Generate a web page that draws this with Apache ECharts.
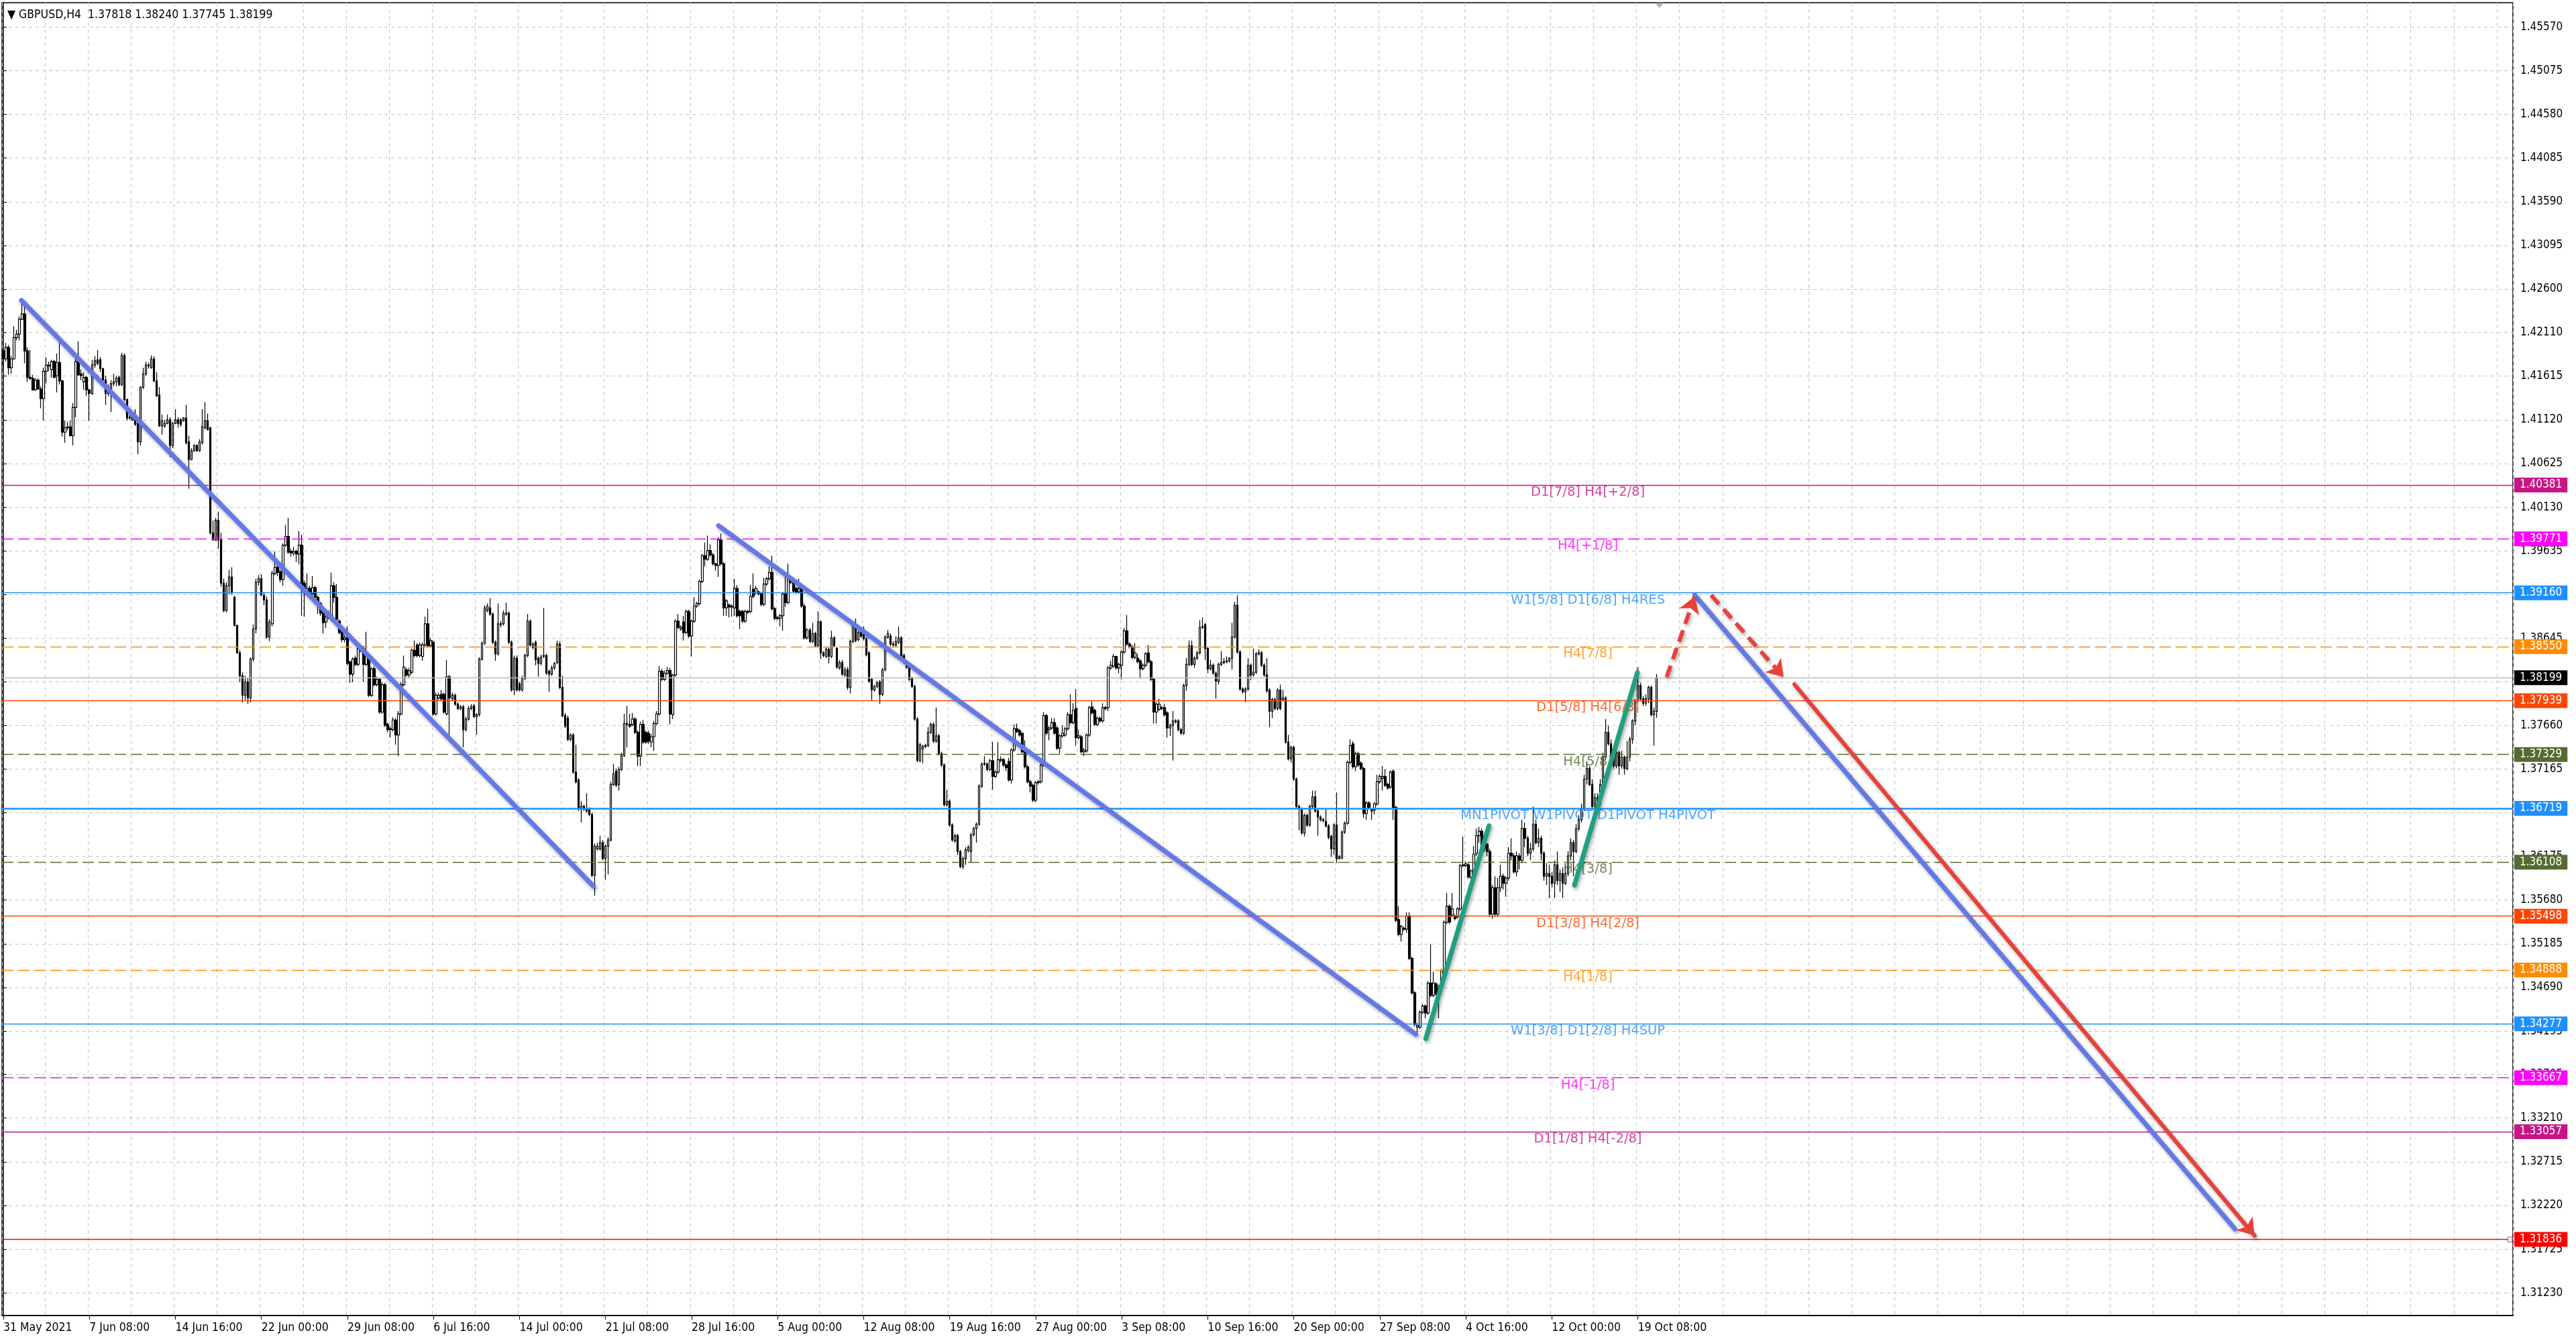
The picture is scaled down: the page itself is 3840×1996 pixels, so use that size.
<!DOCTYPE html>
<html><head><meta charset="utf-8">
<script src="https://cdn.jsdelivr.net/npm/echarts@6/dist/echarts.min.js"></script>
<style>html,body{margin:0;padding:0;background:#fff;overflow:hidden}#c{width:3840px;height:1996px}</style>
</head><body><div id="c"></div>
<script>
// ---- candle values (H4 bars, 31 May 2021 -> 20 Oct 2021) ----
const opens = [
1.4190,1.4181,1.4194,1.4171,1.4181,1.4205,1.4209,1.4226,1.4232,1.4190,
1.4160,1.4159,1.4146,1.4157,1.4147,1.4136,1.4167,1.4173,1.4169,1.4178,
1.4162,1.4177,1.4156,1.4098,1.4103,1.4104,1.4094,1.4126,1.4178,1.4164,
1.4155,1.4160,1.4146,1.4142,1.4174,1.4180,1.4180,1.4170,1.4157,1.4142,
1.4147,1.4153,1.4155,1.4160,1.4152,1.4185,1.4135,1.4115,1.4112,1.4112,
1.4108,1.4087,1.4149,1.4164,1.4173,1.4171,1.4181,1.4156,1.4140,1.4105,
1.4105,1.4108,1.4112,1.4083,1.4108,1.4112,1.4112,1.4111,1.4114,1.4087,
1.4067,1.4077,1.4083,1.4077,1.4086,1.4103,1.4111,1.4103,1.3984,1.3976,
1.3998,1.3976,1.3927,1.3896,1.3924,1.3934,1.3911,1.3879,1.3848,1.3822,
1.3800,1.3815,1.3797,1.3841,1.3875,1.3928,1.3932,1.3913,1.3908,1.3866,
1.3881,1.3938,1.3945,1.3940,1.3931,1.3970,1.3980,1.3963,1.3961,1.3963,
1.3960,1.3970,1.3927,1.3918,1.3921,1.3915,1.3922,1.3911,1.3904,1.3894,
1.3883,1.3889,1.3886,1.3924,1.3911,1.3884,1.3872,1.3863,1.3866,1.3838,
1.3824,1.3842,1.3835,1.3851,1.3853,1.3835,1.3841,1.3800,1.3830,1.3812,
1.3818,1.3781,1.3812,1.3767,1.3761,1.3761,1.3772,1.3755,1.3779,1.3812,
1.3829,1.3823,1.3826,1.3851,1.3857,1.3845,1.3844,1.3857,1.3881,1.3856,
1.3860,1.3779,1.3797,1.3801,1.3801,1.3779,1.3821,1.3796,1.3800,1.3790,
1.3785,1.3787,1.3761,1.3773,1.3785,1.3788,1.3776,1.3778,1.3841,1.3859,
1.3896,1.3899,1.3892,1.3860,1.3847,1.3880,1.3881,1.3892,1.3893,1.3860,
1.3806,1.3842,1.3813,1.3806,1.3819,1.3845,1.3884,1.3854,1.3860,1.3842,
1.3836,1.3844,1.3845,1.3827,1.3824,1.3831,1.3837,1.3858,1.3809,1.3777,
1.3774,1.3750,1.3755,1.3713,1.3704,1.3671,1.3674,1.3671,1.3671,1.3665,
1.3596,1.3626,1.3626,1.3633,1.3615,1.3629,1.3636,1.3699,1.3714,1.3699,
1.3716,1.3732,1.3768,1.3767,1.3767,1.3773,1.3758,1.3731,1.3767,1.3758,
1.3757,1.3747,1.3753,1.3768,1.3779,1.3827,1.3818,1.3825,1.3828,1.3778,
1.3823,1.3884,1.3875,1.3883,1.3871,1.3895,1.3867,1.3884,1.3901,1.3904,
1.3929,1.3958,1.3954,1.3964,1.3959,1.3949,1.3947,1.3976,1.3949,1.3899,
1.3902,1.3901,1.3899,1.3921,1.3895,1.3895,1.3884,1.3894,1.3895,1.3920,
1.3916,1.3917,1.3915,1.3903,1.3926,1.3932,1.3939,1.3898,1.3888,1.3887,
1.3890,1.3915,1.3905,1.3930,1.3928,1.3921,1.3917,1.3921,1.3901,1.3865,
1.3874,1.3861,1.3870,1.3856,1.3883,1.3848,1.3844,1.3852,1.3844,1.3865,
1.3853,1.3831,1.3837,1.3823,1.3829,1.3809,1.3861,1.3877,1.3863,1.3873,
1.3869,1.3864,1.3848,1.3818,1.3806,1.3810,1.3815,1.3801,1.3829,1.3866,
1.3867,1.3857,1.3857,1.3860,1.3865,1.3845,1.3837,1.3832,1.3819,1.3810,
1.3773,1.3726,1.3739,1.3742,1.3743,1.3758,1.3767,1.3748,1.3754,1.3734,
1.3721,1.3676,1.3680,1.3653,1.3635,1.3641,1.3623,1.3606,1.3615,1.3624,
1.3623,1.3642,1.3649,1.3654,1.3697,1.3722,1.3722,1.3716,1.3726,1.3708,
1.3713,1.3726,1.3727,1.3721,1.3725,1.3704,1.3738,1.3762,1.3760,1.3757,
1.3736,1.3719,1.3702,1.3698,1.3681,1.3701,1.3702,1.3721,1.3777,1.3761,
1.3763,1.3769,1.3763,1.3740,1.3754,1.3755,1.3762,1.3778,1.3769,1.3785,
1.3752,1.3753,1.3736,1.3737,1.3755,1.3787,1.3783,1.3767,1.3774,1.3771,
1.3785,1.3786,1.3831,1.3833,1.3844,1.3831,1.3834,1.3849,1.3873,1.3858,
1.3855,1.3843,1.3842,1.3839,1.3830,1.3834,1.3848,1.3838,1.3818,1.3781,
1.3784,1.3785,1.3786,1.3780,1.3763,1.3766,1.3770,1.3771,1.3761,1.3757,
1.3811,1.3835,1.3856,1.3835,1.3842,1.3848,1.3877,1.3880,1.3853,1.3830,
1.3834,1.3825,1.3816,1.3835,1.3837,1.3838,1.3839,1.3842,1.3866,1.3902,
1.3849,1.3807,1.3804,1.3807,1.3834,1.3823,1.3826,1.3847,1.3848,1.3834,
1.3823,1.3806,1.3782,1.3795,1.3785,1.3806,1.3795,1.3797,1.3747,1.3728,
1.3741,1.3705,1.3674,1.3671,1.3644,1.3664,1.3653,1.3674,1.3685,1.3669,
1.3662,1.3658,1.3657,1.3652,1.3640,1.3626,1.3653,1.3615,1.3616,1.3645,
1.3655,1.3724,1.3745,1.3719,1.3734,1.3723,1.3717,1.3666,1.3678,1.3669,
1.3670,1.3677,1.3702,1.3706,1.3708,1.3699,1.3696,1.3714,1.3673,1.3546,
1.3529,1.3536,1.3535,1.3550,1.3502,1.3463,1.3424,1.3424,1.3441,1.3448,
1.3440,1.3474,1.3460,1.3473,1.3462,1.3468,1.3488,1.3543,1.3561,1.3551,
1.3550,1.3549,1.3558,1.3607,1.3607,1.3608,1.3594,1.3601,1.3621,1.3641,
1.3646,1.3626,1.3631,1.3623,1.3552,1.3582,1.3552,1.3582,1.3595,1.3587,
1.3593,1.3621,1.3618,1.3600,1.3618,1.3613,1.3649,1.3638,1.3621,1.3626,
1.3654,1.3633,1.3638,1.3621,1.3595,1.3598,1.3595,1.3587,1.3608,1.3590,
1.3598,1.3587,1.3598,1.3618,1.3633,1.3623,1.3649,1.3659,1.3671,1.3705,
1.3717,1.3699,1.3674,1.3684,1.3677,1.3699,1.3730,1.3758,1.3745,1.3730,
1.3720,1.3735,1.3720,1.3730,1.3717,1.3730,1.3750,1.3771,1.3794,1.3811,
1.3796,1.3791,1.3796,1.3809,1.3778,1.37818];
const highs = [
1.4192,1.4199,1.4197,1.4184,1.4218,1.4214,1.4229,1.4244,1.4242,1.4194,
1.4191,1.4163,1.4159,1.4159,1.4150,1.4171,1.4183,1.4178,1.4180,1.4180,
1.4187,1.4199,1.4157,1.4111,1.4110,1.4111,1.4131,1.4181,1.4201,1.4169,
1.4166,1.4162,1.4147,1.4180,1.4184,1.4191,1.4183,1.4171,1.4162,1.4152,
1.4157,1.4164,1.4162,1.4162,1.4188,1.4187,1.4136,1.4125,1.4121,1.4124,
1.4110,1.4150,1.4171,1.4178,1.4177,1.4185,1.4184,1.4166,1.4149,1.4118,
1.4112,1.4118,1.4115,1.4110,1.4124,1.4115,1.4114,1.4115,1.4129,1.4094,
1.4080,1.4084,1.4084,1.4090,1.4124,1.4132,1.4119,1.4104,1.3998,1.4001,
1.4008,1.3984,1.3932,1.3928,1.3942,1.3945,1.3913,1.3880,1.3851,1.3826,
1.3822,1.3820,1.3843,1.3880,1.3932,1.3936,1.3937,1.3917,1.3912,1.3886,
1.3941,1.3963,1.3948,1.3942,1.3972,1.3993,1.4001,1.3966,1.3968,1.3965,
1.3986,1.3982,1.3930,1.3938,1.3924,1.3935,1.3924,1.3913,1.3906,1.3896,
1.3892,1.3896,1.3939,1.3928,1.3926,1.3886,1.3874,1.3868,1.3878,1.3839,
1.3843,1.3845,1.3860,1.3857,1.3856,1.3872,1.3843,1.3832,1.3833,1.3821,
1.3820,1.3815,1.3814,1.3769,1.3765,1.3775,1.3774,1.3782,1.3815,1.3845,
1.3831,1.3831,1.3853,1.3862,1.3859,1.3860,1.3860,1.3889,1.3898,1.3865,
1.3862,1.3803,1.3803,1.3806,1.3803,1.3840,1.3823,1.3803,1.3802,1.3792,
1.3789,1.3789,1.3776,1.3788,1.3790,1.3790,1.3780,1.3843,1.3861,1.3902,
1.3904,1.3910,1.3894,1.3862,1.3904,1.3884,1.3896,1.3905,1.3895,1.3862,
1.3845,1.3845,1.3815,1.3822,1.3847,1.3892,1.3886,1.3860,1.3862,1.3844,
1.3846,1.3899,1.3847,1.3829,1.3834,1.3838,1.3862,1.3861,1.3822,1.3780,
1.3777,1.3757,1.3757,1.3744,1.3706,1.3680,1.3676,1.3689,1.3673,1.3667,
1.3632,1.3633,1.3641,1.3636,1.3631,1.3639,1.3702,1.3722,1.3717,1.3719,
1.3735,1.3779,1.3788,1.3779,1.3780,1.3775,1.3760,1.3770,1.3772,1.3760,
1.3760,1.3756,1.3771,1.3782,1.3833,1.3830,1.3828,1.3832,1.3831,1.3824,
1.3886,1.3892,1.3879,1.3890,1.3897,1.3897,1.3886,1.3911,1.3906,1.3931,
1.3960,1.3973,1.3981,1.3971,1.3961,1.3950,1.3979,1.3983,1.3951,1.3909,
1.3904,1.3903,1.3932,1.3925,1.3897,1.3897,1.3897,1.3897,1.3925,1.3938,
1.3924,1.3919,1.3917,1.3933,1.3934,1.3946,1.3958,1.3900,1.3890,1.3892,
1.3917,1.3934,1.3949,1.3933,1.3929,1.3923,1.3932,1.3923,1.3904,1.3876,
1.3876,1.3882,1.3872,1.3895,1.3885,1.3850,1.3854,1.3854,1.3873,1.3867,
1.3855,1.3840,1.3840,1.3832,1.3832,1.3863,1.3881,1.3887,1.3873,1.3875,
1.3878,1.3866,1.3850,1.3820,1.3812,1.3816,1.3817,1.3831,1.3868,1.3874,
1.3870,1.3861,1.3867,1.3878,1.3867,1.3847,1.3839,1.3834,1.3821,1.3812,
1.3775,1.3746,1.3744,1.3745,1.3764,1.3769,1.3769,1.3786,1.3756,1.3736,
1.3723,1.3693,1.3682,1.3655,1.3643,1.3643,1.3625,1.3617,1.3628,1.3630,
1.3644,1.3651,1.3656,1.3699,1.3724,1.3731,1.3724,1.3728,1.3747,1.3715,
1.3747,1.3731,1.3729,1.3723,1.3729,1.3740,1.3767,1.3768,1.3762,1.3758,
1.3749,1.3721,1.3704,1.3700,1.3703,1.3704,1.3723,1.3781,1.3779,1.3765,
1.3774,1.3774,1.3765,1.3756,1.3766,1.3764,1.3781,1.3801,1.3791,1.3807,
1.3761,1.3755,1.3740,1.3757,1.3788,1.3793,1.3785,1.3776,1.3776,1.3791,
1.3788,1.3833,1.3839,1.3847,1.3845,1.3837,1.3851,1.3876,1.3891,1.3860,
1.3857,1.3859,1.3847,1.3841,1.3836,1.3849,1.3857,1.3840,1.3820,1.3792,
1.3796,1.3788,1.3790,1.3782,1.3768,1.3782,1.3773,1.3773,1.3763,1.3813,
1.3842,1.3862,1.3862,1.3844,1.3850,1.3885,1.3888,1.3882,1.3855,1.3840,
1.3836,1.3827,1.3837,1.3850,1.3842,1.3844,1.3843,1.3882,1.3906,1.3913,
1.3851,1.3809,1.3809,1.3842,1.3836,1.3853,1.3849,1.3852,1.3850,1.3836,
1.3842,1.3808,1.3797,1.3797,1.3808,1.3812,1.3806,1.3799,1.3755,1.3743,
1.3743,1.3707,1.3676,1.3673,1.3666,1.3666,1.3676,1.3692,1.3692,1.3671,
1.3664,1.3661,1.3672,1.3654,1.3642,1.3655,1.3690,1.3619,1.3647,1.3657,
1.3726,1.3750,1.3748,1.3736,1.3736,1.3725,1.3719,1.3680,1.3680,1.3672,
1.3679,1.3710,1.3710,1.3720,1.3716,1.3701,1.3715,1.3716,1.3675,1.3561,
1.3540,1.3538,1.3554,1.3554,1.3504,1.3465,1.3429,1.3443,1.3450,1.3450,
1.3476,1.3518,1.3487,1.3475,1.3472,1.3490,1.3545,1.3576,1.3563,1.3576,
1.3552,1.3560,1.3609,1.3640,1.3612,1.3610,1.3603,1.3629,1.3649,1.3651,
1.3649,1.3636,1.3633,1.3626,1.3585,1.3595,1.3593,1.3608,1.3598,1.3595,
1.3628,1.3638,1.3621,1.3623,1.3621,1.3659,1.3656,1.3641,1.3633,1.3674,
1.3659,1.3649,1.3641,1.3623,1.3610,1.3608,1.3600,1.3613,1.3623,1.3603,
1.3605,1.3608,1.3623,1.3638,1.3636,1.3654,1.3664,1.3677,1.3710,1.3725,
1.3720,1.3705,1.3689,1.3689,1.3705,1.3735,1.3773,1.3766,1.3750,1.3740,
1.3745,1.3737,1.3737,1.3732,1.3748,1.3753,1.3773,1.3796,1.3832,1.3814,
1.3799,1.3801,1.3811,1.3811,1.3786,1.38240];
const lows = [
1.4171,1.4178,1.4163,1.4164,1.4180,1.4202,1.4202,1.4225,1.4176,1.4155,
1.4157,1.4145,1.4145,1.4146,1.4125,1.4111,1.4153,1.4167,1.4160,1.4159,
1.4143,1.4152,1.4093,1.4086,1.4100,1.4093,1.4083,1.4115,1.4162,1.4157,
1.4146,1.4139,1.4111,1.4140,1.4171,1.4174,1.4166,1.4156,1.4129,1.4139,
1.4121,1.4150,1.4150,1.4150,1.4150,1.4133,1.4111,1.4112,1.4111,1.4105,
1.4073,1.4083,1.4147,1.4162,1.4170,1.4170,1.4155,1.4138,1.4104,1.4095,
1.4103,1.4107,1.4070,1.4080,1.4107,1.4103,1.4104,1.4110,1.4084,1.4034,
1.4066,1.4076,1.4076,1.4076,1.4084,1.4101,1.4100,1.3982,1.3975,1.3975,
1.3966,1.3923,1.3894,1.3894,1.3914,1.3914,1.3878,1.3847,1.3815,1.3792,
1.3795,1.3790,1.3792,1.3838,1.3870,1.3924,1.3912,1.3902,1.3864,1.3861,
1.3878,1.3936,1.3935,1.3928,1.3924,1.3968,1.3960,1.3957,1.3958,1.3951,
1.3948,1.3890,1.3889,1.3915,1.3910,1.3912,1.3908,1.3892,1.3890,1.3870,
1.3876,1.3886,1.3884,1.3905,1.3884,1.3869,1.3860,1.3860,1.3834,1.3814,
1.3815,1.3833,1.3833,1.3849,1.3815,1.3833,1.3798,1.3798,1.3810,1.3810,
1.3779,1.3779,1.3764,1.3758,1.3752,1.3759,1.3744,1.3731,1.3777,1.3810,
1.3821,1.3820,1.3824,1.3843,1.3843,1.3843,1.3839,1.3855,1.3854,1.3854,
1.3777,1.3777,1.3795,1.3794,1.3779,1.3777,1.3755,1.3794,1.3788,1.3783,
1.3783,1.3741,1.3759,1.3771,1.3783,1.3774,1.3755,1.3776,1.3839,1.3857,
1.3894,1.3890,1.3858,1.3839,1.3845,1.3877,1.3879,1.3890,1.3858,1.3804,
1.3800,1.3804,1.3804,1.3804,1.3817,1.3843,1.3855,1.3852,1.3834,1.3821,
1.3834,1.3842,1.3823,1.3804,1.3822,1.3829,1.3835,1.3807,1.3775,1.3763,
1.3748,1.3748,1.3711,1.3700,1.3669,1.3656,1.3669,1.3667,1.3663,1.3594,
1.3573,1.3624,1.3624,1.3613,1.3591,1.3597,1.3634,1.3697,1.3696,1.3692,
1.3714,1.3730,1.3741,1.3763,1.3765,1.3756,1.3720,1.3720,1.3745,1.3745,
1.3745,1.3741,1.3737,1.3766,1.3777,1.3816,1.3816,1.3823,1.3767,1.3773,
1.3821,1.3875,1.3873,1.3862,1.3869,1.3865,1.3844,1.3882,1.3899,1.3902,
1.3927,1.3946,1.3952,1.3957,1.3947,1.3941,1.3934,1.3947,1.3890,1.3890,
1.3888,1.3889,1.3890,1.3888,1.3875,1.3882,1.3882,1.3892,1.3893,1.3910,
1.3914,1.3913,1.3901,1.3901,1.3924,1.3930,1.3896,1.3885,1.3885,1.3878,
1.3873,1.3900,1.3903,1.3926,1.3916,1.3915,1.3915,1.3899,1.3863,1.3863,
1.3859,1.3859,1.3854,1.3854,1.3841,1.3843,1.3842,1.3836,1.3842,1.3854,
1.3830,1.3829,1.3822,1.3821,1.3806,1.3802,1.3859,1.3860,1.3861,1.3865,
1.3862,1.3844,1.3814,1.3794,1.3804,1.3808,1.3790,1.3799,1.3827,1.3864,
1.3856,1.3855,1.3855,1.3858,1.3841,1.3835,1.3830,1.3816,1.3808,1.3771,
1.3724,1.3724,1.3723,1.3740,1.3741,1.3756,1.3746,1.3746,1.3732,1.3719,
1.3674,1.3674,1.3651,1.3634,1.3633,1.3619,1.3604,1.3603,1.3608,1.3622,
1.3611,1.3640,1.3633,1.3652,1.3695,1.3720,1.3714,1.3714,1.3693,1.3706,
1.3711,1.3724,1.3719,1.3714,1.3702,1.3700,1.3736,1.3757,1.3753,1.3734,
1.3717,1.3700,1.3690,1.3679,1.3679,1.3699,1.3700,1.3719,1.3755,1.3749,
1.3761,1.3755,1.3738,1.3734,1.3752,1.3753,1.3760,1.3767,1.3767,1.3743,
1.3750,1.3734,1.3731,1.3735,1.3753,1.3778,1.3765,1.3765,1.3769,1.3769,
1.3783,1.3782,1.3829,1.3831,1.3829,1.3825,1.3818,1.3847,1.3856,1.3853,
1.3841,1.3841,1.3836,1.3819,1.3828,1.3832,1.3836,1.3816,1.3768,1.3768,
1.3782,1.3783,1.3776,1.3752,1.3754,1.3726,1.3768,1.3759,1.3755,1.3755,
1.3805,1.3833,1.3833,1.3831,1.3840,1.3846,1.3875,1.3840,1.3825,1.3828,
1.3823,1.3796,1.3812,1.3833,1.3835,1.3836,1.3837,1.3829,1.3864,1.3847,
1.3805,1.3802,1.3792,1.3805,1.3817,1.3821,1.3824,1.3845,1.3832,1.3821,
1.3803,1.3764,1.3774,1.3783,1.3783,1.3783,1.3793,1.3745,1.3726,1.3724,
1.3703,1.3672,1.3647,1.3642,1.3640,1.3651,1.3651,1.3672,1.3667,1.3641,
1.3657,1.3656,1.3650,1.3637,1.3617,1.3619,1.3610,1.3614,1.3614,1.3643,
1.3653,1.3722,1.3717,1.3714,1.3719,1.3715,1.3661,1.3659,1.3671,1.3659,
1.3665,1.3675,1.3700,1.3692,1.3696,1.3693,1.3694,1.3659,1.3543,1.3527,
1.3521,1.3533,1.3531,1.3500,1.3461,1.3425,1.3415,1.3422,1.3439,1.3434,
1.3438,1.3458,1.3458,1.3460,1.3434,1.3466,1.3486,1.3541,1.3541,1.3549,
1.3545,1.3547,1.3556,1.3605,1.3605,1.3592,1.3592,1.3599,1.3618,1.3633,
1.3621,1.3623,1.3618,1.3549,1.3547,1.3549,1.3549,1.3577,1.3580,1.3572,
1.3590,1.3613,1.3598,1.3595,1.3603,1.3610,1.3628,1.3618,1.3613,1.3623,
1.3631,1.3628,1.3613,1.3590,1.3585,1.3570,1.3582,1.3570,1.3585,1.3577,
1.3570,1.3585,1.3595,1.3613,1.3595,1.3621,1.3646,1.3656,1.3669,1.3699,
1.3697,1.3671,1.3669,1.3674,1.3674,1.3697,1.3727,1.3743,1.3727,1.3717,
1.3717,1.3710,1.3717,1.3710,1.3715,1.3725,1.3745,1.3766,1.3791,1.3793,
1.3788,1.3788,1.3791,1.3776,1.3743,1.37745];
const closes = [
1.4181,1.4194,1.4171,1.4181,1.4205,1.4209,1.4226,1.4232,1.4190,1.4160,
1.4159,1.4146,1.4157,1.4147,1.4136,1.4167,1.4174,1.4174,1.4178,1.4160,
1.4177,1.4156,1.4098,1.4103,1.4104,1.4094,1.4126,1.4178,1.4163,1.4162,
1.4160,1.4146,1.4142,1.4174,1.4179,1.4176,1.4170,1.4157,1.4142,1.4147,
1.4153,1.4155,1.4159,1.4152,1.4185,1.4135,1.4114,1.4114,1.4117,1.4107,
1.4087,1.4149,1.4164,1.4174,1.4174,1.4181,1.4156,1.4139,1.4105,1.4111,
1.4108,1.4112,1.4083,1.4108,1.4112,1.4108,1.4107,1.4114,1.4086,1.4067,
1.4077,1.4083,1.4077,1.4087,1.4104,1.4111,1.4101,1.3984,1.3976,1.3998,
1.3976,1.3927,1.3896,1.3924,1.3934,1.3916,1.3879,1.3848,1.3822,1.3800,
1.3815,1.3797,1.3841,1.3875,1.3928,1.3932,1.3914,1.3908,1.3866,1.3883,
1.3938,1.3945,1.3939,1.3931,1.3970,1.3980,1.3962,1.3961,1.3963,1.3960,
1.3970,1.3920,1.3917,1.3921,1.3914,1.3922,1.3911,1.3903,1.3893,1.3882,
1.3889,1.3892,1.3924,1.3911,1.3886,1.3871,1.3863,1.3865,1.3836,1.3824,
1.3841,1.3835,1.3853,1.3854,1.3835,1.3844,1.3800,1.3830,1.3812,1.3818,
1.3781,1.3812,1.3766,1.3761,1.3762,1.3772,1.3755,1.3779,1.3812,1.3832,
1.3823,1.3828,1.3851,1.3845,1.3845,1.3857,1.3857,1.3881,1.3856,1.3862,
1.3779,1.3800,1.3800,1.3796,1.3781,1.3821,1.3797,1.3800,1.3790,1.3785,
1.3787,1.3761,1.3773,1.3785,1.3787,1.3776,1.3778,1.3841,1.3859,1.3899,
1.3901,1.3892,1.3860,1.3847,1.3881,1.3881,1.3893,1.3893,1.3860,1.3806,
1.3842,1.3806,1.3806,1.3819,1.3845,1.3884,1.3857,1.3858,1.3840,1.3836,
1.3843,1.3845,1.3825,1.3824,1.3831,1.3836,1.3858,1.3809,1.3777,1.3765,
1.3750,1.3755,1.3713,1.3702,1.3671,1.3674,1.3671,1.3669,1.3665,1.3596,
1.3629,1.3629,1.3633,1.3615,1.3629,1.3636,1.3699,1.3711,1.3698,1.3716,
1.3732,1.3768,1.3767,1.3765,1.3773,1.3758,1.3731,1.3767,1.3747,1.3747,
1.3748,1.3753,1.3768,1.3779,1.3827,1.3818,1.3825,1.3828,1.3779,1.3823,
1.3884,1.3877,1.3877,1.3871,1.3895,1.3867,1.3884,1.3901,1.3904,1.3929,
1.3958,1.3954,1.3964,1.3959,1.3949,1.3947,1.3976,1.3949,1.3899,1.3907,
1.3900,1.3900,1.3921,1.3890,1.3890,1.3884,1.3895,1.3895,1.3912,1.3912,
1.3921,1.3915,1.3903,1.3926,1.3932,1.3939,1.3898,1.3887,1.3887,1.3890,
1.3915,1.3905,1.3931,1.3928,1.3918,1.3917,1.3921,1.3901,1.3865,1.3874,
1.3861,1.3870,1.3856,1.3883,1.3848,1.3845,1.3852,1.3844,1.3865,1.3856,
1.3832,1.3837,1.3824,1.3829,1.3809,1.3861,1.3879,1.3862,1.3871,1.3867,
1.3864,1.3846,1.3816,1.3806,1.3810,1.3814,1.3801,1.3829,1.3866,1.3870,
1.3858,1.3858,1.3861,1.3865,1.3843,1.3837,1.3832,1.3818,1.3810,1.3773,
1.3726,1.3744,1.3742,1.3743,1.3758,1.3767,1.3748,1.3754,1.3734,1.3721,
1.3676,1.3680,1.3653,1.3636,1.3641,1.3623,1.3606,1.3615,1.3625,1.3628,
1.3642,1.3649,1.3654,1.3697,1.3722,1.3723,1.3716,1.3726,1.3708,1.3713,
1.3727,1.3727,1.3721,1.3718,1.3704,1.3738,1.3762,1.3759,1.3755,1.3736,
1.3719,1.3702,1.3697,1.3681,1.3701,1.3702,1.3721,1.3777,1.3757,1.3763,
1.3769,1.3757,1.3740,1.3754,1.3757,1.3762,1.3778,1.3769,1.3783,1.3752,
1.3754,1.3736,1.3738,1.3755,1.3786,1.3780,1.3767,1.3774,1.3771,1.3786,
1.3786,1.3831,1.3834,1.3844,1.3831,1.3835,1.3849,1.3873,1.3858,1.3855,
1.3843,1.3848,1.3838,1.3830,1.3834,1.3847,1.3838,1.3818,1.3781,1.3790,
1.3790,1.3786,1.3778,1.3763,1.3766,1.3771,1.3771,1.3761,1.3757,1.3811,
1.3835,1.3856,1.3835,1.3842,1.3848,1.3877,1.3878,1.3853,1.3830,1.3834,
1.3825,1.3816,1.3835,1.3837,1.3838,1.3839,1.3842,1.3866,1.3902,1.3849,
1.3807,1.3804,1.3807,1.3834,1.3823,1.3826,1.3847,1.3848,1.3834,1.3823,
1.3805,1.3782,1.3795,1.3785,1.3806,1.3785,1.3797,1.3747,1.3728,1.3741,
1.3705,1.3674,1.3671,1.3644,1.3664,1.3653,1.3674,1.3685,1.3669,1.3662,
1.3659,1.3659,1.3652,1.3639,1.3626,1.3653,1.3615,1.3617,1.3645,1.3655,
1.3724,1.3743,1.3719,1.3734,1.3721,1.3717,1.3666,1.3678,1.3673,1.3670,
1.3677,1.3702,1.3708,1.3708,1.3698,1.3695,1.3713,1.3673,1.3545,1.3529,
1.3538,1.3535,1.3550,1.3502,1.3463,1.3427,1.3426,1.3441,1.3448,1.3440,
1.3474,1.3460,1.3474,1.3462,1.3468,1.3488,1.3543,1.3561,1.3543,1.3558,
1.3547,1.3558,1.3607,1.3608,1.3609,1.3594,1.3601,1.3620,1.3641,1.3646,
1.3626,1.3631,1.3623,1.3552,1.3582,1.3552,1.3582,1.3595,1.3587,1.3593,
1.3621,1.3618,1.3600,1.3618,1.3613,1.3649,1.3638,1.3621,1.3626,1.3654,
1.3633,1.3638,1.3621,1.3595,1.3598,1.3595,1.3587,1.3608,1.3590,1.3598,
1.3587,1.3598,1.3618,1.3633,1.3623,1.3649,1.3659,1.3671,1.3705,1.3717,
1.3699,1.3674,1.3684,1.3677,1.3699,1.3730,1.3758,1.3745,1.3730,1.3720,
1.3735,1.3720,1.3730,1.3717,1.3730,1.3750,1.3771,1.3794,1.3811,1.3796,
1.3791,1.3796,1.3809,1.3778,1.3782,1.38199];

// time axis labels, one every 32 bars
const timeLabels = ['31 May 2021','7 Jun 08:00','14 Jun 16:00','22 Jun 00:00','29 Jun 08:00','6 Jul 16:00',
 '14 Jul 00:00','21 Jul 08:00','28 Jul 16:00','5 Aug 00:00','12 Aug 08:00','19 Aug 16:00','27 Aug 00:00',
 '3 Sep 08:00','10 Sep 16:00','20 Sep 00:00','27 Sep 08:00','4 Oct 16:00','12 Oct 00:00','19 Oct 08:00'];
// price axis tick labels
const priceTicks = [1.45570,1.45075,1.44580,1.44085,1.43590,1.43095,1.42600,1.42110,1.41615,1.41120,
 1.40625,1.40130,1.39635,1.39140,1.38645,1.38150,1.37660,1.37165,1.36670,1.36175,1.35680,1.35185,
 1.34690,1.34195,1.33705,1.33210,1.32715,1.32220,1.31725,1.31230];
// horizontal levels
const levelValues = [1.40381,1.39771,1.39160,1.38550,1.37939,1.37329,1.36719,1.36108,1.35498,1.34888,1.34277,1.33667,1.33057,1.31836];
const levelNames = ['D1[7/8] H4[+2/8]','H4[+1/8]','W1[5/8] D1[6/8] H4RES','H4[7/8]','D1[5/8] H4[6/8]','H4[5/8]',
 'MN1PIVOT W1PIVOT D1PIVOT H4PIVOT','H4[3/8]','D1[3/8] H4[2/8]','H4[1/8]','W1[3/8] D1[2/8] H4SUP','H4[-1/8]','D1[1/8] H4[-2/8]',''];
const bidPrice = 1.38199;
const levelLabelBar = 589.4;
// drawn trend lines: [barIndex, price]
const blueLines = [[[6.7,1.42473],[219.5,1.35837]],[[266.0,1.39922],[525.4,1.34161]],[[629.1,1.39135],[830.1,1.31954]]];
const greenLines = [[[529.1,1.34110],[552.6,1.36522]],[[584.4,1.35849],[607.8,1.38256]]];
const redDashArrows = [[[618.7,1.38206],[629.1,1.39116]],[[635.2,1.39135],[662.2,1.38206]]];
const redArrows = [[[666.2,1.38124],[837.4,1.31878]]];
const symbolName = 'GBPUSD,H4';

// ---- styles ----
const levelColors = ['#C71585','#FF00FF','#1E90FF','#FF8C00','#FF4500','#556B2F','#1E90FF','#556B2F','#FF4500','#FF8C00','#1E90FF','#FF00FF','#C71585','#FF0000'];
const levelDashed = [false,true,false,true,false,true,false,true,false,true,false,true,false,false];
const N_CATS = 934, Y_MIN = 1.30974, Y_MAX = 1.45845;
const COND = "'DejaVu Sans Condensed','Liberation Sans Narrow','DejaVu Sans',sans-serif";
const WIDE = "'DejaVu Sans',Verdana,sans-serif";

const cats = [];
for (let i = 0; i < N_CATS; i++) cats.push(String(i));
const candles = opens.map((o, i) => [o, closes[i], lows[i], highs[i]]);
const last = opens.length - 1;
const header = '\u25BC ' + symbolName + '  ' + [opens[last], highs[last], lows[last], closes[last]].map(v => v.toFixed(5)).join(' ');

const badge = (color) => ({show: true, position: 'end', distance: 2, formatter: p => Number(p.value).toFixed(5),
  backgroundColor: color, color: '#fff', padding: [3, 8, 2, 8], fontSize: 17, fontFamily: COND});

const markData = levelValues.map((v, i) => ({
  yAxis: v,
  lineStyle: {color: levelColors[i], type: levelDashed[i] ? [17, 7] : 'solid', width: i === 6 ? 2.5 : 1.3},
  label: badge(levelColors[i])
}));
markData.push({yAxis: bidPrice, lineStyle: {color: '#B8B8B8', type: 'solid', width: 1.3}, label: badge('#000000')});

const textData = levelValues.map((v, i) => ({value: [levelLabelBar, v], name: levelNames[i],
  label: {color: levelColors[i]}})).filter(d => d.name);

const trend = (lines, color, width, dashed, arrow) => ({
  type: 'lines', coordinateSystem: 'cartesian2d', xAxisIndex: 1, yAxisIndex: 0, z: 6, silent: true,
  polyline: false, symbol: arrow ? ['none', 'arrow'] : ['none', 'none'], symbolSize: arrow ? 24 : 0,
  lineStyle: {color: color, width: width, type: dashed ? [18, 10] : 'solid', cap: dashed ? 'butt' : 'round', opacity: 1,
    shadowColor: 'rgba(0,0,0,0.35)', shadowBlur: 5, shadowOffsetX: 2, shadowOffsetY: 3},
  data: lines.map(l => ({coords: l}))
});

const chart = echarts.init(document.getElementById('c'), null, {renderer: 'canvas'});
chart.setOption({
  animation: false,
  backgroundColor: '#ffffff',
  title: {text: header, left: 6, top: 8, textStyle: {fontSize: 17.5, fontWeight: 'normal', fontFamily: COND, color: '#000'}},
  grid: {left: 3, right: 94, top: 4, bottom: 35, show: true, borderColor: '#000', borderWidth: 1.5, backgroundColor: '#fff'},
  xAxis: [{
    type: 'category', data: cats, boundaryGap: true,
    axisLine: {show: true, lineStyle: {color: '#000', width: 1.5}},
    axisTick: {show: true, alignWithLabel: true, length: 6, interval: i => i % 32 === 0 && i / 32 < timeLabels.length, lineStyle: {color: '#000'}},
    axisLabel: {show: true, interval: i => i % 32 === 0 && i / 32 < timeLabels.length,
      formatter: v => { const i = +v; return (i % 32 === 0 && timeLabels[i / 32]) ? timeLabels[i / 32] : ''; },
      align: 'left', margin: 9, fontSize: 17.5, color: '#000', fontFamily: COND},
    splitLine: {show: true, interval: i => i % 16 === 0, lineStyle: {color: '#C4C4C4', type: [5, 5], width: 1}}
  }, {
    type: 'value', min: -0.5, max: N_CATS - 0.5, show: false
  }],
  yAxis: [{
    type: 'value', position: 'right', min: Y_MIN, max: Y_MAX, scale: true,
    axisLine: {show: true, lineStyle: {color: '#000', width: 1.5}},
    axisTick: {show: true, customValues: priceTicks, length: 5, lineStyle: {color: '#000'}},
    axisLabel: {show: true, customValues: priceTicks, formatter: v => v.toFixed(5), margin: 11, fontSize: 17, color: '#000', fontFamily: COND},
    splitLine: {show: true, lineStyle: {color: '#C4C4C4', type: [5, 5], width: 1}}
  }],
  series: [
    {type: 'line', name: 'levels', data: [], z: 1, silent: true,
     markLine: {silent: true, precision: 5, symbol: ['none', 'none'], animation: false, data: markData}},
    {type: 'candlestick', name: 'GBPUSD', xAxisIndex: 0, yAxisIndex: 0, z: 3, large: false, barWidth: 3,
     data: candles, silent: true,
     itemStyle: {color: '#ffffff', color0: '#000000', borderColor: '#000000', borderColor0: '#000000', borderColorDoji: '#000000', borderWidth: 1.2}},
    {type: 'scatter', name: 'levelText', xAxisIndex: 1, yAxisIndex: 0, z: 4, silent: true, symbolSize: 0,
     data: textData,
     label: {show: true, position: 'bottom', distance: 1, formatter: p => p.name, fontSize: 19.5, fontFamily: WIDE}},
    trend(blueLines, '#6479E8', 7, false, false),
    trend(greenLines, '#1FA080', 7, false, false),
    trend(redDashArrows, '#E8413C', 6, true, true),
    trend(redArrows, '#E8413C', 6, false, true),
    {type: 'scatter', name: 'shift', xAxisIndex: 1, yAxisIndex: 0, z: 7, silent: true, clip: false,
     symbol: 'triangle', symbolRotate: 180, symbolSize: [13, 8], symbolOffset: [0, 4],
     itemStyle: {color: '#9A9A9A'}, data: [[last + 1, Y_MAX]]},
    {type: 'scatter', name: 'handle', xAxisIndex: 1, yAxisIndex: 0, z: 7, silent: true, clip: false,
     symbol: 'rect', symbolSize: 7, itemStyle: {color: '#fff', borderColor: '#444', borderWidth: 1},
     data: [[N_CATS - 1.6, levelValues[13]]]}
  ]
});
</script>
</body></html>
